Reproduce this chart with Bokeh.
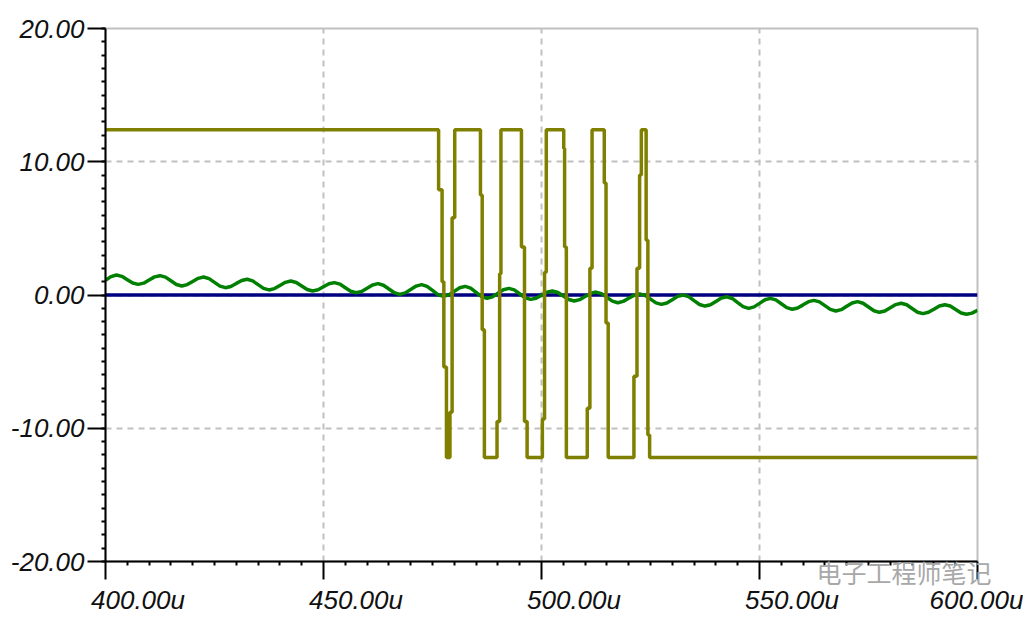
from bokeh.plotting import figure
from bokeh.models import FixedTicker, PrintfTickFormatter
from bokeh.embed import file_html
from bokeh.resources import INLINE

# ---------------- data ----------------
x_ticks = [400, 450, 500, 550, 600]
x_tick_labels = ["400.00u", "450.00u", "500.00u", "550.00u", "600.00u"]
y_ticks = [-20, -10, 0, 10, 20]
watermark = "电子工程师笔记"

# olive trace: sample times (us) and values (V), held until next sample
olive_t = [400.0, 476.4, 477.2, 477.6, 478.2, 479.0, 479.5, 480.1,
           486.0, 486.4, 486.9, 489.8, 490.4, 490.7,
           495.4, 496.1, 496.7, 500.2, 500.7, 501.1,
           505.1, 505.3, 505.7, 510.5, 511.1, 511.6,
           514.4, 514.8, 515.3, 521.2, 521.9, 522.5, 522.9,
           524.0, 524.4, 524.8, 600.0]
olive_v = [12.4, 7.9, 1.0, -5.4, -12.2, -8.8, 5.8, 12.4,
           7.5, -2.6, -12.2, -9.5, 1.6, 12.4,
           3.6, -9.5, -12.2, -9.3, 1.7, 12.4,
           11.0, 3.6, -12.2, -8.5, 2.0, 12.4,
           8.4, -2.1, -12.2, -6.1, 2.0, 9.0, 12.4,
           4.1, -10.5, -12.2, -12.2]

# green trace: values every 1.25 us from 400 to 600 us
green_t0 = 400.0
green_dt = 1.25
green_v = [
    1.10, 1.38, 1.50, 1.40, 1.15, 0.90, 0.80, 0.89,
    1.13, 1.36, 1.45, 1.34, 1.07, 0.79, 0.68, 0.78,
    1.02, 1.25, 1.35, 1.23, 0.95, 0.67, 0.55, 0.64,
    0.87, 1.09, 1.18, 1.06, 0.78, 0.50, 0.38, 0.48,
    0.72, 0.95, 1.05, 0.94, 0.68, 0.41, 0.30, 0.39,
    0.62, 0.84, 0.93, 0.82, 0.55, 0.28, 0.17, 0.27,
    0.51, 0.75, 0.85, 0.73, 0.45, 0.17, 0.05, 0.16,
    0.42, 0.67, 0.78, 0.65, 0.34, 0.03, -0.10, 0.01,
    0.28, 0.54, 0.65, 0.52, 0.20, -0.12, -0.25, -0.14,
    0.13, 0.39, 0.50, 0.38, 0.09, -0.21, -0.33, -0.24,
    -0.02, 0.21, 0.30, 0.19, -0.08, -0.34, -0.45, -0.35,
    -0.12, 0.12, 0.22, 0.10, -0.18, -0.46, -0.58, -0.48,
    -0.25, -0.02, 0.08, -0.03, -0.31, -0.59, -0.70, -0.60,
    -0.35, -0.10, 0.00, -0.12, -0.42, -0.71, -0.83, -0.73,
    -0.48, -0.23, -0.13, -0.26, -0.57, -0.87, -1.00, -0.89,
    -0.63, -0.36, -0.25, -0.37, -0.66, -0.95, -1.07, -0.97,
    -0.74, -0.50, -0.40, -0.52, -0.80, -1.08, -1.20, -1.10,
    -0.85, -0.60, -0.50, -0.62, -0.90, -1.18, -1.30, -1.20,
    -0.96, -0.72, -0.62, -0.73, -1.01, -1.29, -1.40, -1.30,
    -1.07, -0.83, -0.73, -0.83, -1.09, -1.35, -1.45, -1.36,
    -1.15]
green_t = [green_t0 + i * green_dt for i in range(len(green_v))]

# blue trace
blue_t = [400.0, 600.0]
blue_v = [0.0, 0.0]

# ---------------- figure ----------------
FONT = "Liberation Sans"
GRID = "#c0c0c0"
TXT = "#111111"

p = figure(width=1023, height=619, x_range=(400, 600), y_range=(-20, 20),
           output_backend="svg", toolbar_location=None,
           min_border_left=105, min_border_right=46,
           min_border_top=28, min_border_bottom=58)
p.background_fill_color = "white"
p.border_fill_color = "white"
p.outline_line_color = GRID
p.outline_line_width = 2

# axes
p.xaxis.ticker = FixedTicker(ticks=x_ticks,
                             minor_ticks=[t for t in range(400, 601, 5) if t % 50])
p.yaxis.ticker = FixedTicker(ticks=y_ticks, minor_ticks=list(range(-20, 21)))
p.yaxis.formatter = PrintfTickFormatter(format="%.2f")
# the original tick labels start a little left of their tick: pad in front
pad = "\u00a0" * 9
p.xaxis.major_label_overrides = {t: pad + lab for t, lab in zip(x_ticks, x_tick_labels)}

for ax in (p.xaxis[0], p.yaxis[0]):
    ax.axis_line_color = "black"
    ax.axis_line_width = 2
    ax.major_tick_line_color = "black"
    ax.major_tick_line_width = 2
    ax.major_tick_out = 18
    ax.major_tick_in = 0
    ax.minor_tick_line_color = "black"
    ax.minor_tick_line_width = 2
    ax.minor_tick_out = 4
    ax.minor_tick_in = 0
    ax.major_label_text_font = FONT
    ax.major_label_text_font_style = "italic"
    ax.major_label_text_font_size = "26px"
    ax.major_label_text_color = TXT
p.yaxis.major_label_standoff = 3
p.xaxis.major_label_standoff = 5

# watermark drawn as the x axis' title, pulled up just under the axis line
# and pushed to the right with leading ideographic spaces
xa = p.xaxis[0]
xa.axis_label = "\u3000" * 29 + watermark
xa.axis_label_text_font = "Noto Sans CJK SC"
xa.axis_label_text_font_style = "normal"
xa.axis_label_text_font_size = "25px"
xa.axis_label_text_color = "#a8a8a8"
xa.axis_label_standoff = -64

# grid
p.grid.grid_line_color = GRID
p.grid.grid_line_width = 2
p.grid.grid_line_dash = "6 5"

# traces
p.line(blue_t, blue_v, line_color="#000080", line_width=3.5)
p.line(green_t, green_v, line_color="#008000", line_width=3.5)
p.step(olive_t, olive_v, mode="after", line_color="#808000", line_width=3.5)

open("out.html", "w").write(file_html(p, INLINE))
